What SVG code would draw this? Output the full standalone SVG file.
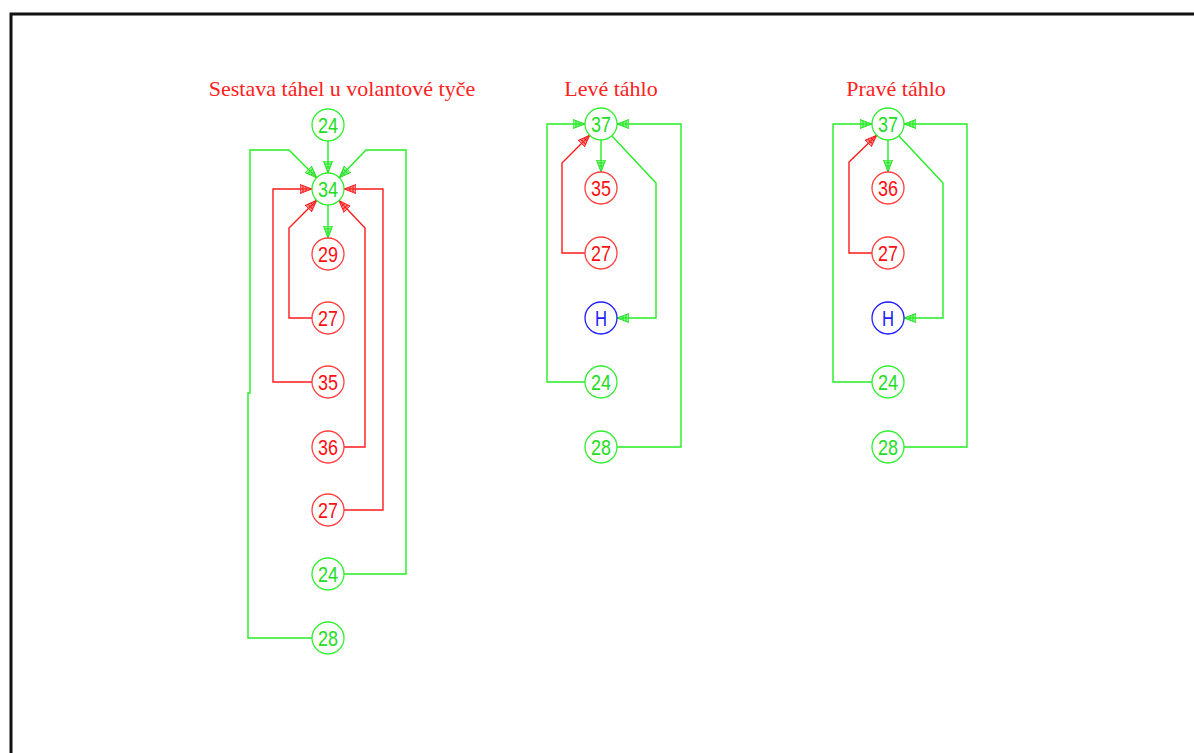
<svg xmlns="http://www.w3.org/2000/svg" width="1194" height="753" viewBox="0 0 1194 753">
<style>
.title{font-family:"Liberation Serif","Times New Roman",serif;font-size:22px;fill:#ff2020;text-anchor:middle}
.lbl{font-family:"Liberation Sans",Arial,sans-serif;font-size:22px;text-anchor:middle;font-weight:normal}
.g circle{fill:#fff;stroke:#33ee33;stroke-width:1.3}
.g text{fill:#22dd22}
.r circle{fill:#fff;stroke:#ff4040;stroke-width:1.3}
.r text{fill:#ff1010}
.b circle{fill:#fff;stroke:#2020ff;stroke-width:1.3}
.b text{fill:#2020ff}
.cg{fill:none;stroke:#22ee22;stroke-width:1.4}
.cr{fill:none;stroke:#ff1a1a;stroke-width:1.4}
</style>
<defs>
<marker id="ag" viewBox="0 0 12 10" refX="12" refY="5" markerWidth="12" markerHeight="10" markerUnits="userSpaceOnUse" orient="auto">
<path d="M0,0.5 L12,5 L0,9.5 z" fill="#88ff88" stroke="#22dd22" stroke-width="1"/>
<path d="M0,5 L12,5 M3,2 L3,8 M6,3 L6,7" stroke="#22dd22" stroke-width="1"/>
</marker>
<marker id="ar" viewBox="0 0 12 10" refX="12" refY="5" markerWidth="12" markerHeight="10" markerUnits="userSpaceOnUse" orient="auto">
<path d="M0,0.5 L12,5 L0,9.5 z" fill="#ff8888" stroke="#ff1a1a" stroke-width="1"/>
<path d="M0,5 L12,5 M3,2 L3,8 M6,3 L6,7" stroke="#ff1a1a" stroke-width="1"/>
</marker>
</defs>
<rect x="0" y="0" width="1194" height="753" fill="#fff"/>
<path d="M11,753 L11,14 L1194,14" fill="none" stroke="#111" stroke-width="3"/>

<text class="title" x="342" y="96">Sestava táhel u volantové tyče</text>
<text class="title" x="611" y="96">Levé táhlo</text>
<text class="title" x="896" y="96">Pravé táhlo</text>

<g id="connectors">
<path class="cg" d="M328,141 L328,173" marker-end="url(#ag)"/>
<path class="cg" d="M328,205 L328,238" marker-end="url(#ag)"/>
<path class="cg" d="M312,638 L248,638 L248,393 L250,393 L250,150 L289,150 L316.7,177.7" marker-end="url(#ag)"/>
<path class="cg" d="M344,574 L406,574 L406,150 L366,150 L339.3,177.7" marker-end="url(#ag)"/>
<path class="cr" d="M312,382 L273,382 L273,189 L312,189" marker-end="url(#ar)"/>
<path class="cr" d="M312,318 L289,318 L289,228 L316.7,200.3" marker-end="url(#ar)"/>
<path class="cr" d="M344,447 L365,447 L365,228 L339,200.6" marker-end="url(#ar)"/>
<path class="cr" d="M344,510 L383,510 L383,189 L344,189" marker-end="url(#ar)"/>
<path class="cg" d="M601,140 L601,172" marker-end="url(#ag)"/>
<path class="cg" d="M585,382 L547,382 L547,124 L585,124" marker-end="url(#ag)"/>
<path class="cg" d="M617,447 L681,447 L681,124 L617,124" marker-end="url(#ag)"/>
<path class="cg" d="M612,136 L656,183 L656,318 L617,318" marker-end="url(#ag)"/>
<path class="cr" d="M585,253 L562,253 L562,163 L589.7,135.3" marker-end="url(#ar)"/>
<path class="cg" d="M888,140 L888,172" marker-end="url(#ag)"/>
<path class="cg" d="M872,382 L833,382 L833,124 L872,124" marker-end="url(#ag)"/>
<path class="cg" d="M904,447 L967,447 L967,124 L904,124" marker-end="url(#ag)"/>
<path class="cg" d="M899,136 L943,183 L943,318 L904,318" marker-end="url(#ag)"/>
<path class="cr" d="M872,253 L849,253 L849,162 L876.7,135.3" marker-end="url(#ar)"/>
</g>

<g id="a24" class="g"><circle cx="328" cy="125" r="16"/><text class="lbl" x="328" y="133" textLength="20" lengthAdjust="spacingAndGlyphs">24</text></g>
<g id="a34" class="g"><circle cx="328" cy="189" r="16"/><text class="lbl" x="328" y="197" textLength="20" lengthAdjust="spacingAndGlyphs">34</text></g>
<g id="a29" class="r"><circle cx="328" cy="254" r="16"/><text class="lbl" x="328" y="262" textLength="20" lengthAdjust="spacingAndGlyphs">29</text></g>
<g id="a27" class="r"><circle cx="328" cy="318" r="16"/><text class="lbl" x="328" y="326" textLength="20" lengthAdjust="spacingAndGlyphs">27</text></g>
<g id="a35" class="r"><circle cx="328" cy="382" r="16"/><text class="lbl" x="328" y="390" textLength="20" lengthAdjust="spacingAndGlyphs">35</text></g>
<g id="a36" class="r"><circle cx="328" cy="447" r="16"/><text class="lbl" x="328" y="455" textLength="20" lengthAdjust="spacingAndGlyphs">36</text></g>
<g id="a27b" class="r"><circle cx="328" cy="510" r="16"/><text class="lbl" x="328" y="518" textLength="20" lengthAdjust="spacingAndGlyphs">27</text></g>
<g id="a24b" class="g"><circle cx="328" cy="574" r="16"/><text class="lbl" x="328" y="582" textLength="20" lengthAdjust="spacingAndGlyphs">24</text></g>
<g id="a28" class="g"><circle cx="328" cy="638" r="16"/><text class="lbl" x="328" y="646" textLength="20" lengthAdjust="spacingAndGlyphs">28</text></g>

<g id="l37" class="g"><circle cx="601" cy="124" r="16"/><text class="lbl" x="601" y="132" textLength="20" lengthAdjust="spacingAndGlyphs">37</text></g>
<g id="l35" class="r"><circle cx="601" cy="188" r="16"/><text class="lbl" x="601" y="196" textLength="20" lengthAdjust="spacingAndGlyphs">35</text></g>
<g id="l27" class="r"><circle cx="601" cy="253" r="16"/><text class="lbl" x="601" y="261" textLength="20" lengthAdjust="spacingAndGlyphs">27</text></g>
<g id="lH" class="b"><circle cx="601" cy="318" r="16"/><text class="lbl" x="601" y="326" textLength="12" lengthAdjust="spacingAndGlyphs">H</text></g>
<g id="l24" class="g"><circle cx="601" cy="382" r="16"/><text class="lbl" x="601" y="390" textLength="20" lengthAdjust="spacingAndGlyphs">24</text></g>
<g id="l28" class="g"><circle cx="601" cy="447" r="16"/><text class="lbl" x="601" y="455" textLength="20" lengthAdjust="spacingAndGlyphs">28</text></g>

<g id="p37" class="g"><circle cx="888" cy="124" r="16"/><text class="lbl" x="888" y="132" textLength="20" lengthAdjust="spacingAndGlyphs">37</text></g>
<g id="p36" class="r"><circle cx="888" cy="188" r="16"/><text class="lbl" x="888" y="196" textLength="20" lengthAdjust="spacingAndGlyphs">36</text></g>
<g id="p27" class="r"><circle cx="888" cy="253" r="16"/><text class="lbl" x="888" y="261" textLength="20" lengthAdjust="spacingAndGlyphs">27</text></g>
<g id="pH" class="b"><circle cx="888" cy="318" r="16"/><text class="lbl" x="888" y="326" textLength="12" lengthAdjust="spacingAndGlyphs">H</text></g>
<g id="p24" class="g"><circle cx="888" cy="382" r="16"/><text class="lbl" x="888" y="390" textLength="20" lengthAdjust="spacingAndGlyphs">24</text></g>
<g id="p28" class="g"><circle cx="888" cy="447" r="16"/><text class="lbl" x="888" y="455" textLength="20" lengthAdjust="spacingAndGlyphs">28</text></g>
</svg>
